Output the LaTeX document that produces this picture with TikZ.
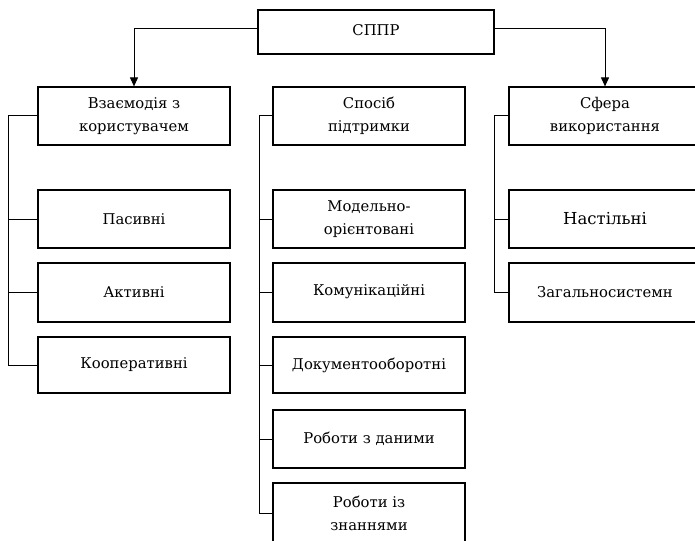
\documentclass[tikz,border=0pt]{standalone}
\usepackage{fontspec}
\setmainfont{DejaVu Serif}
\usetikzlibrary{arrows.meta}
\tikzset{
  box/.style={draw=black, line width=1.2pt, minimum width=192pt, minimum height=58pt, inner sep=0pt, align=center, font=\fontsize{14.8}{23}\selectfont},
  conn/.style={draw=black, line width=1pt},
  arr/.style={conn, -{Triangle[length=9pt,width=8pt]}}
}
\begin{document}
\begin{tikzpicture}[x=1pt,y=-1pt]
\useasboundingbox (0,0) rectangle (695,540);
\node[box, minimum width=236pt, minimum height=44pt] (top) at (376,32) {\raisebox{3pt}{СППР}};
\node[box] (p1) at (134,116) {Взаємодія з\\користувачем};
\node[box] (p2) at (369,116) {Спосіб\\підтримки};
\node[box] (p3) at (605,116) {Сфера\\використання};
% left children
\node[box] (a1) at (134,219) {Пасивні};
\node[box, minimum height=59pt] (a2) at (134,292.5) {Активні};
\node[box, minimum height=56pt] (a3) at (134,365) {Кооперативні};
% middle children
\node[box] (b1) at (369,219) {Модельно-\\орієнтовані};
\node[box, minimum height=59pt] (b2) at (369,292.5) {\raisebox{5pt}{Комунікаційні}};
\node[box, minimum height=56pt] (b3) at (369,365) {\raisebox{3pt}{Документооборотні}};
\node[box] (b4) at (369,439) {\raisebox{1pt}{Роботи з даними}};
\node[box, minimum height=60pt] (b5) at (369,513) {Роботи із\\знаннями};
% right children
\node[box, font=\fontsize{16.5}{23}\selectfont] (c1) at (605,219) {Настільні};
\node[box, minimum height=59pt] (c2) at (605,292.5) {Загальносистемн};
% bus coordinates
\coordinate (busA) at (8,0);
\coordinate (busB) at (259,0);
\coordinate (busC) at (494,0);
% top arrows
\draw[arr] ([yshift=3.5pt]top.west) -| (p1.north);
\draw[arr] ([yshift=3.5pt]top.east) -| (p3.north);
% buses
\foreach \c in {a1,a2,a3} \draw[conn] (p1.west) -- (p1.west -| busA) |- (\c.west);
\foreach \c in {b1,b2,b3,b4,b5} \draw[conn] (p2.west) -- (p2.west -| busB) |- (\c.west);
\foreach \c in {c1,c2} \draw[conn] (p3.west) -- (p3.west -| busC) |- (\c.west);
\end{tikzpicture}
\end{document}
